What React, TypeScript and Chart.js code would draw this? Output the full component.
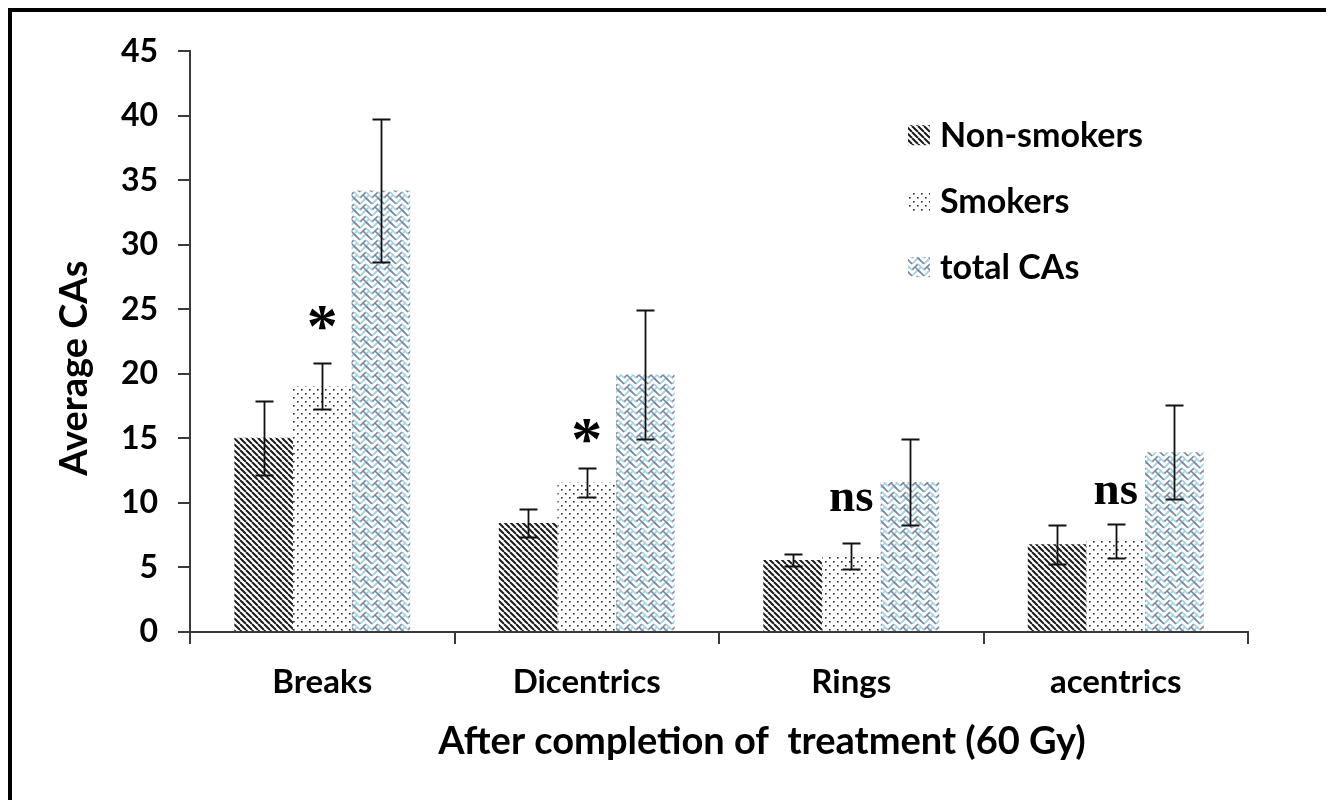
import React, { useEffect, useRef } from "react";
import { Chart, registerables } from "chart.js";
Chart.register(...registerables);

const categories = ["Breaks", "Dicentrics", "Rings", "acentrics"];
const seriesNames = ["Non-smokers", "Smokers", "total CAs"];
const nonSmokers = [15.05, 8.45, 5.57, 6.8];
const nonSmokersErr = [2.86, 1.1, 0.47, 1.5];
const smokers = [19.05, 11.58, 5.9, 7.05];
const smokersErr = [1.8, 1.15, 1.03, 1.3];
const totalCAs = [34.2, 19.95, 11.62, 13.92];
const totalErr = [5.55, 5.0, 3.3, 3.65];
const sigLabels = ["*", "*", "ns", "ns"];
const sigValues = [24.3, 15.57, 10.2, 10.8];
const yMin = 0;
const yMax = 45;
const yStep = 5;
const xTitle = "After completion of  treatment (60 Gy)";
const yTitle = "Average CAs";

const FONT = "Lato, 'Open Sans', sans-serif";
const AXIS = "#3a3a3a";

function makePatterns(main: CanvasRenderingContext2D) {
  const mk = (w: number, h: number, draw: (g: CanvasRenderingContext2D) => void) => {
    const c = document.createElement("canvas");
    c.width = w;
    c.height = h;
    const g = c.getContext("2d")!;
    g.fillStyle = "#ffffff";
    g.fillRect(0, 0, w, h);
    draw(g);
    return main.createPattern(c, "repeat")!;
  };
  const p0 = mk(6, 6, (g) => {
    g.strokeStyle = "#1c1c1c";
    g.lineWidth = 2;
    g.beginPath();
    for (const o of [-6, 0, 6]) {
      g.moveTo(o, 0);
      g.lineTo(o + 6, 6);
    }
    g.stroke();
  });
  const p1 = mk(8, 8, (g) => {
    g.fillStyle = "#2a2a2a";
    g.fillRect(1, 1, 1.6, 1.6);
    g.fillRect(5, 5, 1.6, 1.6);
  });
  const p2 = mk(12, 12, (g) => {
    // herringbone-like weave: alternating short diagonal segments
    const seg = (x1: number, y1: number, x2: number, y2: number, col: string) => {
      g.strokeStyle = col;
      g.beginPath();
      for (const dx of [-12, 0, 12]) {
        for (const dy of [-12, 0, 12]) {
          g.moveTo(x1 + dx, y1 + dy);
          g.lineTo(x2 + dx, y2 + dy);
        }
      }
      g.stroke();
    };
    g.lineWidth = 1.6;
    const gray = "#7f84a2";
    const cyan = "#9fd6de";
    seg(0, 6, 6, 0, gray);
    seg(6, 0, 12, 6, cyan);
    seg(0, 12, 6, 6, cyan);
    seg(6, 6, 12, 12, gray);
    seg(3, 9, 9, 3, cyan);
    seg(3, 3, 9, 9, gray);
  });
  return [p0, p1, p2];
}

export default function App() {
  const ref = useRef<HTMLCanvasElement | null>(null);
  useEffect(() => {
    const canvas = ref.current!;
    const ctx0 = canvas.getContext("2d")!;
    const patterns = makePatterns(ctx0);
    const values = [nonSmokers, smokers, totalCAs];
    const errs = [nonSmokersErr, smokersErr, totalErr];

    const overlay = {
      id: "overlay",
      afterDatasetsDraw(chart: any) {
        const ctx = chart.ctx as CanvasRenderingContext2D;
        const y = chart.scales.y;
        const area = chart.chartArea;
        ctx.save();
        // error bars
        ctx.strokeStyle = "#111";
        ctx.lineWidth = 1.8;
        errs.forEach((arr, di) => {
          const meta = chart.getDatasetMeta(di);
          meta.data.forEach((bar: any, i: number) => {
            const v = values[di][i];
            const e = arr[i];
            const t = Math.round(y.getPixelForValue(v + e)) + 0.5;
            const b = Math.round(y.getPixelForValue(v - e)) + 0.5;
            const x = Math.round(bar.x) + 0.5;
            ctx.beginPath();
            ctx.moveTo(x, t);
            ctx.lineTo(x, b);
            ctx.moveTo(x - 9, t);
            ctx.lineTo(x + 9, t);
            ctx.moveTo(x - 9, b);
            ctx.lineTo(x + 9, b);
            ctx.stroke();
          });
        });
        // significance labels
        const sm = chart.getDatasetMeta(1);
        ctx.fillStyle = "#000";
        sigLabels.forEach((lab, i) => {
          const x = sm.data[i].x;
          const yc = y.getPixelForValue(sigValues[i]);
          ctx.font = lab === "*" ? "bold 62px 'Liberation Serif', serif" : "bold 47px 'Liberation Serif', serif";
          ctx.textAlign = "center";
          ctx.textBaseline = "alphabetic";
          const m = ctx.measureText(lab);
          const yy = yc + (m.actualBoundingBoxAscent - m.actualBoundingBoxDescent) / 2;
          ctx.fillText(lab, x, yy);
        });
        // legend
        const lx = area.left + 718;
        const offs = [84, 150, 216];
        ctx.font = `bold 34px ${FONT}`;
        ctx.textAlign = "left";
        ctx.textBaseline = "middle";
        seriesNames.forEach((name, i) => {
          const cy = area.top + offs[i];
          ctx.fillStyle = patterns[i];
          ctx.fillRect(lx, cy - 10, 22, 20);
          ctx.fillStyle = "#000";
          ctx.fillText(name, lx + 32, cy + 1);
        });
        // axis titles
        ctx.fillStyle = "#000";
        ctx.font = `bold 38px ${FONT}`;
        ctx.textAlign = "center";
        ctx.textBaseline = "middle";
        ctx.fillText(xTitle, area.left + 572, area.bottom + 110);
        ctx.save();
        ctx.translate(area.left - 115, area.top + 317);
        ctx.rotate(-Math.PI / 2);
        ctx.font = `bold 38px ${FONT}`;
        ctx.fillText(yTitle, 0, 0);
        ctx.restore();
        ctx.restore();
      },
    };

    const chart = new Chart(canvas, {
      type: "bar",
      data: {
        labels: categories,
        datasets: values.map((vals, i) => ({
          label: seriesNames[i],
          data: vals,
          backgroundColor: patterns[i],
          borderWidth: 0,
          categoryPercentage: 0.665,
          barPercentage: 1,
        })),
      },
      options: {
        responsive: false,
        animation: false,
        events: [],
        layout: { padding: { left: 0, top: 39, right: 86, bottom: 0 } },
        plugins: { legend: { display: false }, tooltip: { enabled: false }, title: { display: false } },
        scales: {
          x: {
            type: "category",
            offset: true,
            afterFit: (s: any) => {
              s.height = 168;
            },
            grid: {
              offset: true,
              drawOnChartArea: false,
              drawTicks: true,
              tickLength: 12,
              color: AXIS,
              lineWidth: 2,
            },
            border: { display: true, color: AXIS, width: 2 },
            ticks: {
              color: "#000",
              font: { family: FONT, size: 33, weight: "bold" },
              padding: 19,
            },
          },
          y: {
            min: yMin,
            max: yMax,
            afterFit: (s: any) => {
              s.width = 178;
            },
            grid: {
              drawOnChartArea: false,
              drawTicks: true,
              tickLength: 12,
              color: AXIS,
              lineWidth: 2,
            },
            border: { display: true, color: AXIS, width: 2 },
            ticks: {
              stepSize: yStep,
              color: "#000",
              font: { family: FONT, size: 32, weight: "bold" },
              padding: 20,
            },
          },
        },
      },
      plugins: [overlay],
    } as any);
    return () => chart.destroy();
  }, []);

  return (
    <div
      style={{
        width: 1326,
        height: 792,
        boxSizing: "border-box",
        borderTop: "4px solid #000",
        borderLeft: "4px solid #000",
        background: "#fff",
        overflow: "hidden",
      }}
    >
      <canvas ref={ref} width={1322} height={788} style={{ display: "block" }} />
    </div>
  );
}
